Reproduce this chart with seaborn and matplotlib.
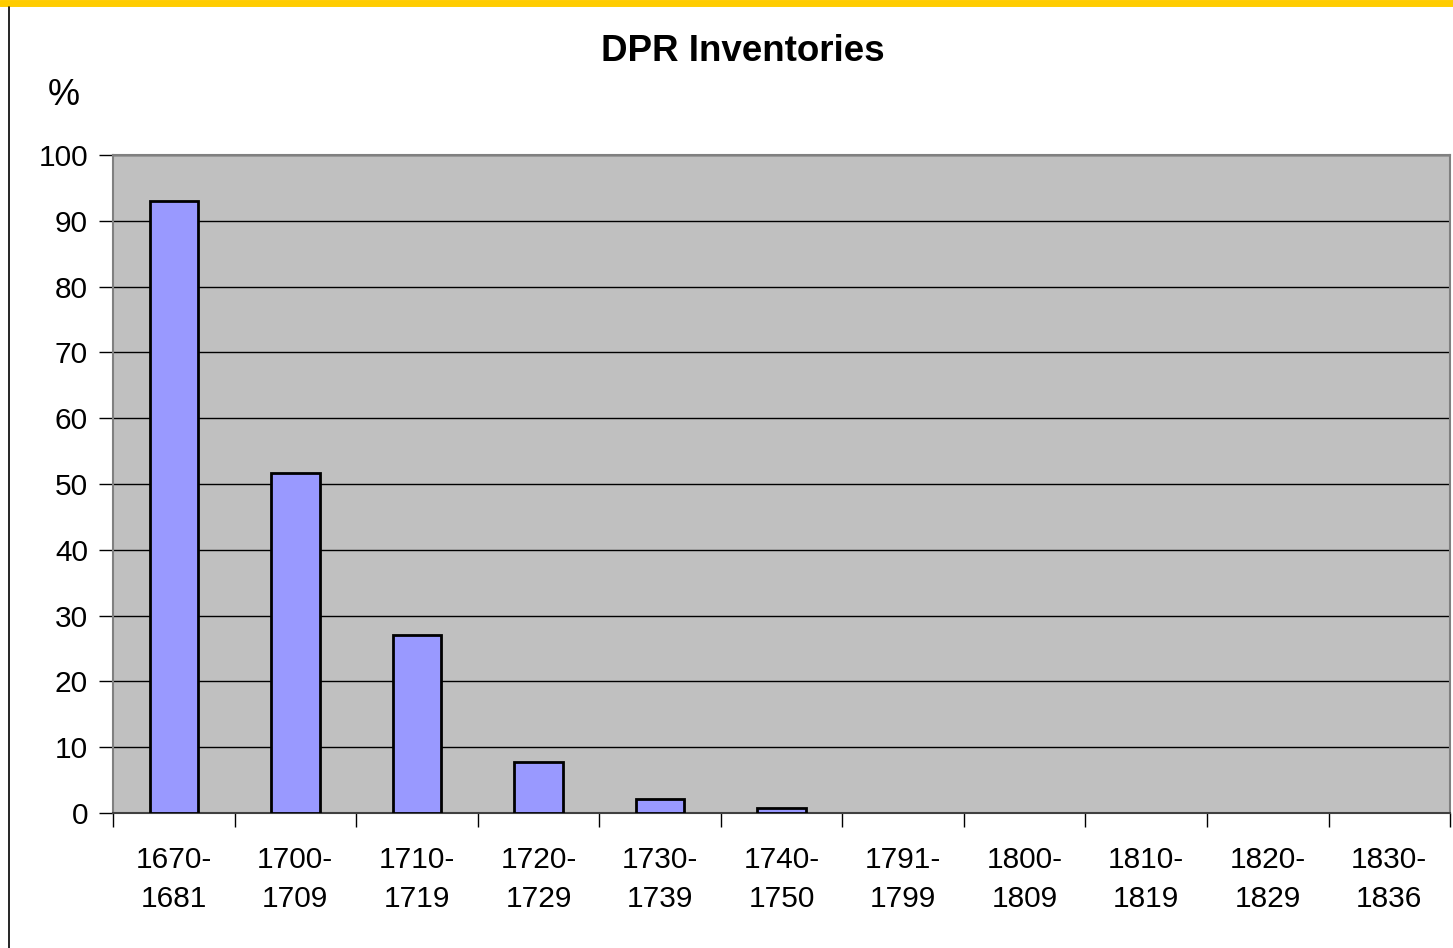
import numpy as np
import pandas as pd
import matplotlib
matplotlib.use('Agg')
import matplotlib.pyplot as plt
import seaborn as sns
from matplotlib.lines import Line2D

# Data
periods = ['1670-\n1681', '1700-\n1709', '1710-\n1719', '1720-\n1729', '1730-\n1739',
           '1740-\n1750', '1791-\n1799', '1800-\n1809', '1810-\n1819', '1820-\n1829',
           '1830-\n1836']
percent = [93.0, 51.7, 27.0, 7.7, 2.2, 0.7, 0, 0, 0, 0, 0]
y_ticks = [0, 10, 20, 30, 40, 50, 60, 70, 80, 90, 100]

df = pd.DataFrame({'period': periods, 'percent': percent})

sns.set_style('white')
plt.rcParams['font.family'] = ['Liberation Sans', 'DejaVu Sans']
plt.rcParams['text.color'] = 'black'
plt.rcParams['xtick.color'] = 'black'
plt.rcParams['ytick.color'] = 'black'

fig = plt.figure(figsize=(14.53, 9.48), dpi=100)
ax = fig.add_axes([0.0778, 0.1424, 0.9202, 0.6941])
ax.set_facecolor('#c0c0c0')

sns.barplot(data=df, x='period', y='percent', color='#9999ff', saturation=1,
            width=0.4, edgecolor='black', linewidth=2, ax=ax, zorder=3)

# empty periods show no bar at all
for patch in ax.patches:
    if patch.get_height() == 0:
        patch.set_visible(False)

ax.set_xlim(-0.5, len(periods) - 0.5)
ax.set_ylim(0, 100)
ax.set_yticks(y_ticks)
ax.yaxis.grid(True, color='black', linewidth=1, zorder=1)
ax.set_axisbelow(True)

ax.set_xticks(range(len(periods)))
ax.set_xticklabels(periods, fontsize=21.5, linespacing=1.5)
ax.set_xticks(np.arange(-0.5, len(periods), 1), minor=True)
ax.tick_params(axis='x', which='major', length=0, pad=24, labelcolor='black')
ax.tick_params(axis='x', which='minor', bottom=True, length=10, width=1,
               color='black', direction='out')
ax.tick_params(axis='y', left=True, length=10, width=1, color='black', direction='out',
               labelsize=21.5, pad=8, labelcolor='black')

for side in ['top', 'right', 'left']:
    ax.spines[side].set_visible(True)
    ax.spines[side].set_color('#808080')
    ax.spines[side].set_linewidth(1.5)
ax.spines['bottom'].set_color('#404040')
ax.spines['bottom'].set_linewidth(1.5)

ax.set_xlabel('')
ax.set_ylabel('')

fig.text(0.511, 0.946, 'DPR Inventories', ha='center', va='center',
         fontsize=26.5, fontweight='bold', color='black')
fig.text(0.0437, 0.899, '%', ha='center', va='center', fontsize=26, color='black')

# Yellow band at top and left rule
fig.add_artist(Line2D([0, 1], [0.9965, 0.9965], color='#ffcc00', linewidth=5,
                      transform=fig.transFigure))
fig.add_artist(Line2D([0.0062, 0.0062], [0, 0.993], color='black', linewidth=1.2,
                      transform=fig.transFigure))

fig.savefig('out.png', dpi=100)
plt.close(fig)
